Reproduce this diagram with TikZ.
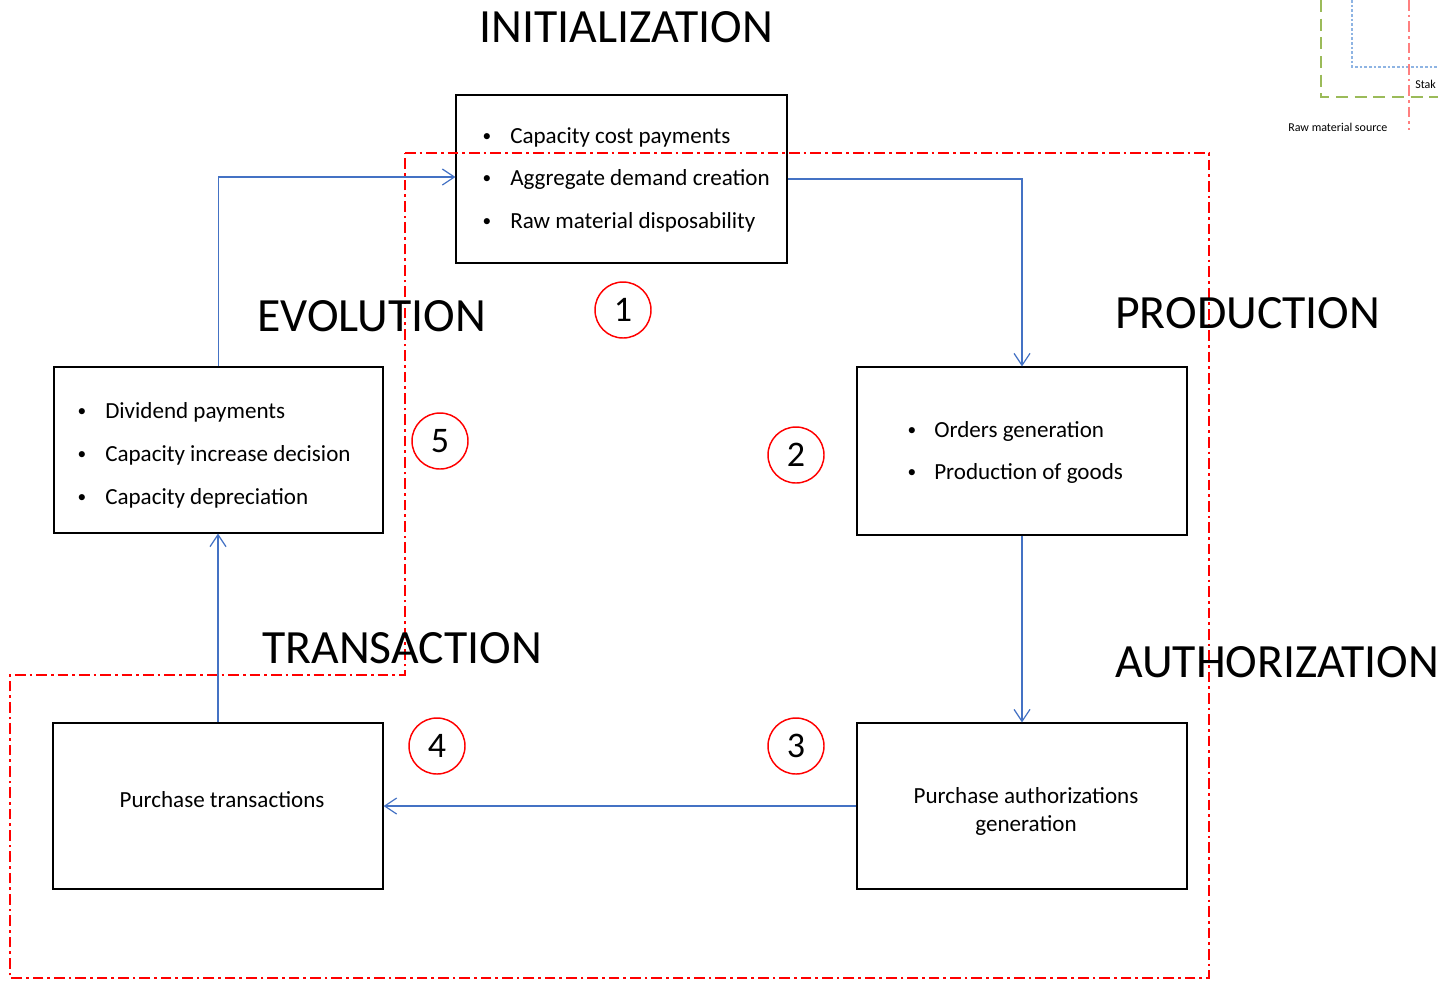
\documentclass[tikz,border=0pt]{standalone}
\usepackage{fontspec}
\setmainfont{Carlito}
\usetikzlibrary{arrows.meta}
\definecolor{flowblue}{HTML}{4472C4}
\definecolor{regred}{HTML}{FF0000}
\definecolor{grn}{HTML}{9BBB59}
\definecolor{ltblue}{HTML}{8EB4E3}
\definecolor{pinkred}{HTML}{FF8080}
\begin{document}
\begin{tikzpicture}[x=0.75pt,y=-0.75pt,
  box/.style={draw=black,line width=0.9pt,inner sep=0pt},
  flow/.style={draw=flowblue,line width=0.9pt,-{Straight Barb[length=9pt,width=12pt,line width=0.9pt]}},
  region/.style={draw=regred,line width=1pt,dash pattern=on 8pt off 3pt on 2pt off 3pt},
  num/.style={circle,draw=regred,line width=1.1pt,minimum size=42pt,inner sep=0pt,font=\fontsize{27}{30}\selectfont},
  title/.style={anchor=base west,inner sep=0pt,font=\fontsize{35.8}{40}\selectfont},
  txt/.style={anchor=base west,inner sep=0pt,font=\fontsize{17.3}{21}\selectfont},
  ctxt/.style={anchor=base,inner sep=0pt,font=\fontsize{17.3}{21}\selectfont},
  bul/.style={anchor=base,inner sep=0pt,font=\fontsize{13}{16}\selectfont},
  small/.style={anchor=base west,inner sep=0pt,font=\fontsize{9}{10}\selectfont}]
\useasboundingbox (0,0) rectangle (1438,983);

% top-right partial legend
\draw[grn,line width=1.2pt,dash pattern=on 9pt off 5pt] (1321,0) -- (1321,97) -- (1438,97);
\draw[ltblue,line width=0.9pt,dash pattern=on 2pt off 1.5pt] (1352,0) -- (1352,67) -- (1438,67);
\draw[pinkred,line width=1pt,dash pattern=on 8pt off 3pt on 2pt off 3pt] (1409,0) -- (1409,130);
\node[small] (stak) at (1415,88) {Stak};
\node[small] (raw) at (1288,131) {Raw material source};

% boxes
\node[box,minimum width=248.25pt,minimum height=126pt] (b1) at (621.5,179) {};
\node[box,minimum width=247.5pt,minimum height=126pt] (b2) at (1022,451) {};
\node[box,minimum width=247.5pt,minimum height=124.5pt] (b3) at (1022,806) {};
\node[box,minimum width=247.5pt,minimum height=124.5pt] (b4) at (218,806) {};
\node[box,minimum width=246.75pt,minimum height=124.5pt] (b5) at (218.5,450) {};

% region outline
\draw[region] (405,153) -- (1209,153) -- (1209,978) -- (10,978) -- (10,675) -- (405,675) -- cycle;

% box texts
\node[bul] (b1a) at (487,141) {•};
\node[txt] (t1a) at (510,143) {Capacity cost payments};
\node[bul] (b1b) at (487,183) {•};
\node[txt] (t1b) at (510,185) {Aggregate demand creation};
\node[bul] (b1c) at (487,226) {•};
\node[txt] (t1c) at (510,228) {Raw material disposability};

\node[bul] (b2a) at (912,435) {•};
\node[txt] (t2a) at (934,437) {Orders generation};
\node[bul] (b2b) at (912,477) {•};
\node[txt] (t2b) at (934,479) {Production of goods};

\node[ctxt] (t3a) at (1026,803) {Purchase authorizations};
\node[ctxt] (t3b) at (1026,831) {generation};

\node[ctxt] (t4a) at (222,807) {Purchase transactions};

\node[bul] (b5a) at (82,416) {•};
\node[txt] (t5a) at (105,418) {Dividend payments};
\node[bul] (b5b) at (82,459) {•};
\node[txt] (t5b) at (105,461) {Capacity increase decision};
\node[bul] (b5c) at (82,502) {•};
\node[txt] (t5c) at (105,504) {Capacity depreciation};

% titles
\node[title] (tinit) at (479,42) {INITIALIZATION};
\node[title] (tevol) at (257,331) {EVOLUTION};
\node[title] (tprod) at (1115,328) {PRODUCTION};
\node[title] (ttran) at (262,663) {TRANSACTION};
\node[title] (tauth) at (1115,677) {AUTHORIZATION};

% numbers
\node[num] (n1) at (623,310) {1};
\node[num] (n2) at (796,455) {2};
\node[num] (n3) at (796,746) {3};
\node[num] (n4) at (437,746) {4};
\node[num] (n5) at (440,441) {5};

% flows
\draw[flow] (b5.north) |- ([yshift=1.5pt]b1.west);
\draw[flow] (b1.east) -| (b2.north);
\draw[flow] (b2.south) -- (b3.north);
\draw[flow] (b3.west) -- (b4.east);
\draw[flow] (b4.north) -- (b4.north|-b5.south);
\end{tikzpicture}
\end{document}
